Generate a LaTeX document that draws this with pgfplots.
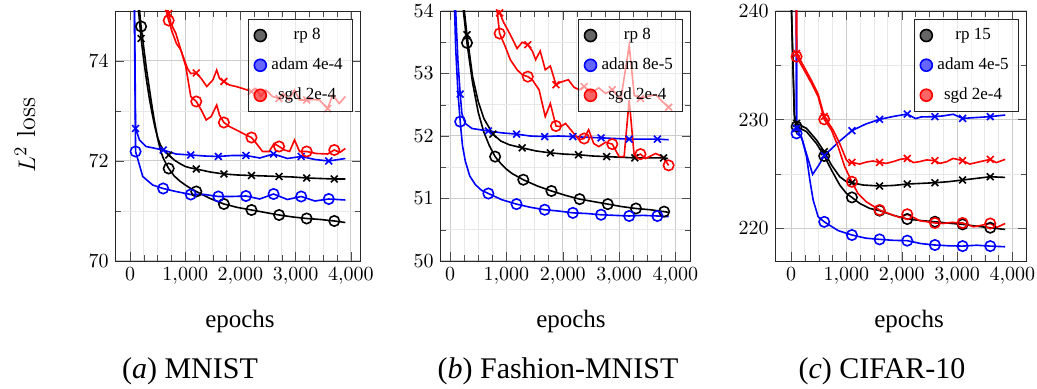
\documentclass[border=0pt]{standalone}
\usepackage{fontspec}
\usepackage{pgfplots}
\pgfplotsset{compat=1.18}
\newfontfamily\tms{Liberation Serif}

\pgfplotsset{
  panel/.style={
    scale only axis, height=125pt,
    anchor=south west,
    grid=both,
    major grid style={draw=gray!40, line width=0.5pt},
    minor grid style={draw=gray!18, line width=0.4pt},
    xtick={0,1000,2000,3000,4000}, minor x tick num=3, minor y tick num=1,
    scaled x ticks=false,
    tick label style={font=\fontsize{9.6}{11}\selectfont},
    tick style={black!70},
    axis line style={black!85},
    legend style={at={(1,1)}, anchor=north east, xshift=-4pt, yshift=-4pt,
      fill=white, fill opacity=0.6, draw opacity=1, text opacity=1, draw=black!85,
      font=\tms\fontsize{8.5}{10}\selectfont, row sep=3.6pt, inner sep=2.5pt},
    legend cell align=center,
  },
  ln/.style={line width=0.8pt, mark=none, forget plot},
  circ/.style={only marks, mark=o, mark size=2.6pt, mark options={solid, line width=0.8pt}, forget plot},
  crs/.style={only marks, mark=x, mark size=2.4pt, mark options={solid, line width=0.8pt}, forget plot},
}
\newcommand\legcirc[1]{\addlegendimage{legend image code/.code={\node[circle, draw=#1, fill=#1, fill opacity=0.6, draw opacity=1, line width=0.8pt, minimum size=6pt, inner sep=0pt] at (0pt,0pt) {};}}}

\begin{document}
\begin{tikzpicture}
\path[use as bounding box] (0,0) rectangle (518.5pt,194.5pt);

% ---------------- (a) MNIST ----------------
\begin{axis}[panel, at={(57.85pt,64pt)}, width=122.4pt,
  xmin=-260, xmax=4175, ymin=70, ymax=75, ytick={70,72,74}]
\legcirc{black}\addlegendentry{\makebox[36pt]{rp 8}}
\legcirc{blue}\addlegendentry{\makebox[36pt]{adam 4e-4}}
\legcirc{red}\addlegendentry{\makebox[36pt]{sgd 2e-4}}
% rp circles
\addplot[black, ln] coordinates {
(100,77.0)(150,75.25)(200,74.69)(250,74.25)(300,73.82)(350,73.45)(400,73.08)(450,72.75)(500,72.45)(550,72.22)(600,72.06)(650,71.95)(700,71.85)(800,71.7)(900,71.6)(1000,71.52)(1100,71.45)(1200,71.39)(1450,71.25)(1700,71.14)(1950,71.07)(2200,71.02)(2450,70.97)(2700,70.92)(2950,70.88)(3200,70.85)(3450,70.83)(3700,70.8)(3900,70.77)};
\addplot[black, circ] coordinates {(200,74.69)(700,71.85)(1200,71.39)(1700,71.14)(2200,71.02)(2700,70.92)(3200,70.85)(3700,70.8)};
% rp crosses
\addplot[black, ln] coordinates {
(100,76.6)(150,75.05)(200,74.45)(250,74.0)(300,73.6)(350,73.25)(400,72.95)(450,72.68)(500,72.47)(550,72.32)(600,72.23)(650,72.17)(700,72.12)(800,72.02)(900,71.95)(1000,71.89)(1100,71.86)(1200,71.84)(1450,71.78)(1700,71.74)(1950,71.72)(2200,71.71)(2450,71.7)(2700,71.69)(2950,71.68)(3200,71.66)(3450,71.65)(3700,71.64)(3900,71.64)};
\addplot[black, crs] coordinates {(200,74.45)(700,72.12)(1200,71.84)(1700,71.74)(2200,71.71)(2700,71.69)(3200,71.66)(3700,71.64)};
% adam circles
\addplot[blue, ln] coordinates {
(0,85)(100,72.19)(230,71.69)(410,71.52)(600,71.45)(830,71.39)(1100,71.33)(1350,71.33)(1600,71.29)(1850,71.29)(2100,71.3)(2350,71.24)(2600,71.34)(2850,71.23)(3100,71.29)(3350,71.2)(3600,71.24)(3900,71.22)};
\addplot[blue, circ] coordinates {(100,72.19)(600,71.45)(1100,71.33)(1600,71.29)(2100,71.3)(2600,71.34)(3100,71.29)(3600,71.24)};
% adam crosses
\addplot[blue, ln] coordinates {
(0,86)(100,72.65)(170,72.42)(290,72.29)(600,72.22)(830,72.14)(1100,72.12)(1350,72.1)(1600,72.09)(1850,72.11)(2100,72.11)(2350,72.06)(2600,72.14)(2850,72.05)(3100,72.09)(3350,72.03)(3600,72.0)(3900,72.05)};
\addplot[blue, crs] coordinates {(100,72.65)(600,72.22)(1100,72.12)(1600,72.09)(2100,72.11)(2600,72.14)(3100,72.09)(3600,72.0)};
% sgd circles
\addplot[red, ln] coordinates {
(600,75.25)(700,74.81)(760,74.59)(840,74.35)(920,74.22)(1010,73.89)(1100,73.29)(1200,73.19)(1290,73.02)(1380,72.82)(1470,72.89)(1570,73.12)(1620,72.92)(1700,72.77)(1800,72.69)(1980,72.59)(2100,72.52)(2200,72.47)(2290,72.35)(2400,72.19)(2520,72.19)(2610,72.35)(2700,72.29)(2800,72.22)(2890,72.19)(2980,72.42)(3070,72.19)(3200,72.19)(3370,72.15)(3580,72.14)(3700,72.22)(3800,72.17)(3900,72.25)};
\addplot[red, circ] coordinates {(700,74.81)(1200,73.19)(1700,72.77)(2200,72.47)(2700,72.29)(3200,72.19)(3700,72.22)};
% sgd crosses
\addplot[red, ln] coordinates {
(600,75.4)(700,74.95)(740,74.75)(830,74.55)(920,74.22)(1040,73.85)(1100,73.75)(1200,73.76)(1290,73.65)(1390,73.49)(1500,73.62)(1570,73.82)(1620,73.65)(1700,73.59)(1800,73.52)(1920,73.49)(2040,73.45)(2200,73.39)(2280,73.45)(2370,73.29)(2460,73.42)(2580,73.29)(2700,73.25)(2770,73.35)(2880,73.22)(2980,73.42)(3070,73.22)(3200,73.22)(3310,73.23)(3430,73.22)(3580,73.05)(3670,73.32)(3790,73.15)(3900,73.29)};
\addplot[red, crs] coordinates {(700,74.95)(1200,73.76)(1700,73.59)(2200,73.39)(2700,73.25)(3200,73.22)(3580,73.05)};
\end{axis}

% ---------------- (b) Fashion-MNIST ----------------
\begin{axis}[panel, at={(220.35pt,64pt)}, width=125pt,
  xmin=-166, xmax=4272, ymin=50, ymax=54, ytick={50,51,52,53,54}]
\legcirc{black}\addlegendentry{\makebox[36pt]{rp 8}}
\legcirc{blue}\addlegendentry{\makebox[36pt]{adam 8e-5}}
\legcirc{red}\addlegendentry{\makebox[36pt]{sgd 2e-4}}
\addplot[black, ln] coordinates {
(100,58.0)(200,54.3)(300,53.49)(400,52.85)(500,52.38)(600,52.06)(700,51.84)(800,51.67)(900,51.56)(1000,51.47)(1100,51.4)(1300,51.3)(1550,51.2)(1800,51.12)(2050,51.05)(2300,50.99)(2550,50.95)(2800,50.91)(3050,50.87)(3300,50.84)(3550,50.82)(3800,50.79)(3870,50.78)};
\addplot[black, circ] coordinates {(300,53.49)(800,51.67)(1300,51.3)(1800,51.12)(2300,50.99)(2800,50.91)(3300,50.84)(3800,50.79)};
\addplot[black, ln] coordinates {
(100,58.2)(200,54.45)(300,53.62)(400,52.95)(500,52.55)(600,52.28)(760,52.03)(900,51.92)(1050,51.86)(1280,51.81)(1530,51.76)(1780,51.73)(2030,51.71)(2280,51.7)(2530,51.68)(2780,51.67)(3030,51.66)(3280,51.65)(3530,51.65)(3790,51.65)(3870,51.64)};
\addplot[black, crs] coordinates {(300,53.62)(760,52.03)(1280,51.81)(1780,51.73)(2280,51.7)(2780,51.67)(3280,51.65)(3790,51.65)};
\addplot[blue, ln] coordinates {
(50,55.0)(100,53.4)(140,52.7)(180,52.23)(220,51.85)(270,51.6)(350,51.36)(450,51.22)(560,51.13)(680,51.08)(920,50.98)(1180,50.91)(1420,50.86)(1680,50.82)(1920,50.8)(2180,50.77)(2420,50.76)(2680,50.74)(2920,50.73)(3180,50.72)(3420,50.73)(3680,50.72)(3880,50.71)};
\addplot[blue, circ] coordinates {(180,52.23)(680,51.08)(1180,50.91)(1680,50.82)(2180,50.77)(2680,50.74)(3180,50.72)(3680,50.72)};
\addplot[blue, ln] coordinates {
(50,55.3)(100,54.0)(140,53.2)(180,52.67)(210,52.36)(270,52.2)(390,52.12)(680,52.08)(920,52.05)(1180,52.03)(1420,52.0)(1680,51.99)(1920,52.0)(2180,51.99)(2420,51.98)(2680,51.97)(2920,51.96)(3180,51.95)(3420,51.95)(3680,51.95)(3880,51.94)};
\addplot[blue, crs] coordinates {(180,52.67)(680,52.08)(1180,52.03)(1680,51.99)(2180,51.99)(2680,51.97)(3180,51.95)(3680,51.95)};
\addplot[red, ln] coordinates {
(780,54.45)(880,53.64)(980,53.43)(1070,53.22)(1190,53.06)(1280,52.98)(1380,52.95)(1460,52.9)(1580,52.74)(1690,52.31)(1780,52.52)(1880,52.16)(1960,52.15)(2050,52.2)(2170,52.07)(2290,51.94)(2380,51.96)(2460,52.1)(2550,51.88)(2640,51.83)(2760,51.9)(2880,51.87)(3000,51.67)(3090,51.67)(3180,52.58)(3270,51.67)(3380,51.71)(3470,51.64)(3650,51.72)(3770,51.67)(3880,51.53)};
\addplot[red, circ] coordinates {(880,53.64)(1380,52.95)(1880,52.16)(2380,51.96)(2880,51.87)(3380,51.71)(3880,51.53)};
\addplot[red, ln] coordinates {
(780,54.6)(880,53.97)(950,53.82)(1070,53.62)(1190,53.4)(1280,53.5)(1380,53.46)(1460,53.36)(1520,53.22)(1600,53.36)(1690,53.06)(1780,53.12)(1880,52.82)(1960,52.86)(2100,52.9)(2200,52.78)(2290,52.74)(2380,52.79)(2520,52.7)(2640,52.77)(2760,52.68)(2880,52.74)(3030,52.58)(3180,53.45)(3270,52.65)(3380,52.6)(3500,52.63)(3650,52.66)(3770,52.55)(3880,52.46)};
\addplot[red, crs] coordinates {(880,53.97)(1380,53.46)(1880,52.82)(2380,52.79)(2880,52.74)(3380,52.6)(3880,52.46)};
\end{axis}

% ---------------- (c) CIFAR-10 ----------------
\begin{axis}[panel, at={(387.85pt,64pt)}, width=125.4pt,
  xmin=-277, xmax=4255, ymin=217, ymax=240, ytick={220,230,240}]
\legcirc{black}\addlegendentry{\makebox[36pt]{rp 15}}
\legcirc{blue}\addlegendentry{\makebox[36pt]{adam 4e-5}}
\legcirc{red}\addlegendentry{\makebox[36pt]{sgd 2e-4}}
\addplot[black, ln] coordinates {
(0,241.5)(60,230.2)(100,229.36)(280,228.9)(460,227.8)(600,226.66)(730,225.37)(880,223.99)(1000,223.22)(1100,222.85)(1240,222.3)(1420,221.84)(1600,221.63)(1850,221.2)(2100,220.86)(2350,220.72)(2600,220.61)(2850,220.48)(3100,220.37)(3350,220.2)(3600,220.06)(3870,219.9)};
\addplot[black, circ] coordinates {(100,229.36)(600,226.66)(1100,222.85)(1600,221.63)(2100,220.86)(2600,220.61)(3100,220.37)(3600,220.06)};
\addplot[black, ln] coordinates {
(0,241.8)(60,230.5)(100,229.66)(280,229.2)(460,228.13)(600,227.06)(730,225.83)(880,224.75)(1000,224.3)(1100,224.2)(1300,223.99)(1600,223.9)(1850,223.95)(2100,224.08)(2350,224.14)(2600,224.2)(2850,224.3)(3100,224.45)(3350,224.6)(3600,224.75)(3870,224.69)};
\addplot[black, crs] coordinates {(100,229.66)(600,227.06)(1100,224.2)(1600,223.9)(2100,224.08)(2600,224.2)(3100,224.45)(3600,224.75)};
\addplot[blue, ln] coordinates {
(0,600)(100,228.74)(190,228.4)(280,226.6)(340,224.45)(400,222.6)(490,221.07)(600,220.6)(850,219.8)(1100,219.39)(1350,219.1)(1600,218.99)(1850,218.9)(2100,218.87)(2350,218.6)(2600,218.47)(2850,218.4)(3100,218.37)(3350,218.45)(3600,218.37)(3870,218.31)};
\addplot[blue, circ] coordinates {(100,228.74)(600,220.6)(1100,219.39)(1600,218.99)(2100,218.87)(2600,218.47)(3100,218.37)(3600,218.37)};
\addplot[blue, ln] coordinates {
(0,600)(100,229.2)(200,228.2)(300,226.5)(390,224.97)(500,225.8)(600,226.7)(850,227.9)(1100,228.99)(1350,229.6)(1600,230.03)(1850,230.3)(2100,230.52)(2250,230.1)(2350,230.25)(2600,230.28)(2750,230.35)(2930,230.5)(3100,230.12)(3350,230.2)(3600,230.28)(3870,230.43)};
\addplot[blue, crs] coordinates {(100,229.2)(600,226.7)(1100,228.99)(1600,230.03)(2100,230.52)(2600,230.28)(3100,230.12)(3600,230.28)};
\addplot[red, ln] coordinates {
(0,600)(100,235.8)(220,234.72)(370,233.34)(490,232.12)(600,230.03)(730,229.05)(850,227.52)(970,225.67)(1100,224.29)(1210,223.2)(1360,222.45)(1600,221.69)(1800,221.3)(1970,221.0)(2100,221.3)(2330,220.7)(2600,220.5)(2750,220.45)(2900,220.55)(3100,220.5)(3300,220.15)(3410,220.25)(3600,220.45)(3720,220.1)(3870,220.45)};
\addplot[red, circ] coordinates {(100,235.8)(600,230.03)(1100,224.29)(1600,221.69)(2100,221.3)(2600,220.5)(3100,220.5)(3600,220.45)};
\addplot[red, ln] coordinates {
(0,600)(100,236.1)(220,235.0)(370,233.6)(490,232.35)(600,230.3)(760,229.05)(880,227.8)(1000,226.3)(1060,225.98)(1100,226.07)(1240,225.92)(1360,226.1)(1480,226.2)(1600,226.07)(1720,225.98)(1850,226.15)(1970,226.35)(2100,226.44)(2210,226.05)(2330,226.15)(2450,226.3)(2600,226.23)(2690,225.98)(2810,226.13)(2930,226.44)(3100,226.23)(3230,225.92)(3410,226.13)(3600,226.35)(3710,226.05)(3870,226.35)};
\addplot[red, crs] coordinates {(100,236.1)(600,230.3)(1100,226.07)(1600,226.07)(2100,226.44)(2600,226.23)(3100,226.23)(3600,226.35)};
\end{axis}

% labels
\node[rotate=90, font=\fontsize{13}{15}\selectfont] at (12.5pt,127pt) {$L^2$ loss};
\node[font=\tms\fontsize{12.5}{14}\selectfont, anchor=base] at (120pt,30.5pt) {epochs};
\node[font=\tms\fontsize{12.5}{14}\selectfont, anchor=base] at (285.5pt,30.5pt) {epochs};
\node[font=\tms\fontsize{12.5}{14}\selectfont, anchor=base] at (454.5pt,30.5pt) {epochs};
\node[font=\tms\fontsize{15}{17}\selectfont, anchor=base] at (95pt,5.35pt) {(\textit{a}) MNIST};
\node[font=\tms\fontsize{15}{17}\selectfont, anchor=base] at (279pt,5.35pt) {(\textit{b}) Fashion-MNIST};
\node[font=\tms\fontsize{15}{17}\selectfont, anchor=base] at (441pt,5.35pt) {(\textit{c}) CIFAR-10};
\end{tikzpicture}
\end{document}
